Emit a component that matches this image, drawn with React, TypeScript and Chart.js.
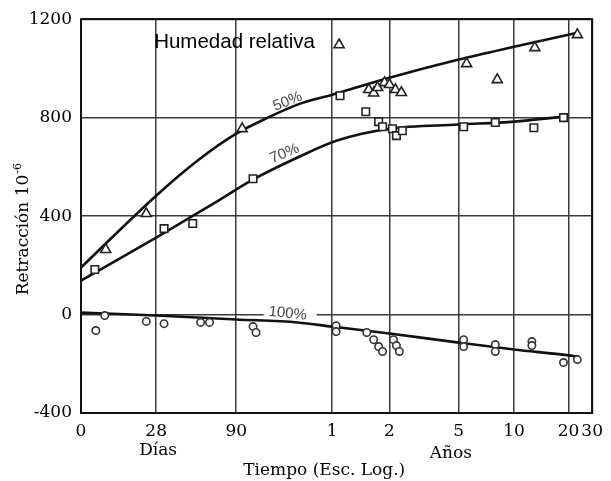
import React, { useEffect, useRef } from 'react';
import { Chart, registerables } from 'chart.js';

Chart.register(...registerables);

// x axis is a pseudo-log time axis; values are positions along that axis
const xTickPos = [0, 76, 157, 254, 312, 382, 438, 493, 517];
const xTickLabels = ['0', '28', '90', '1', '2', '5', '10', '20', '30'];
const yTicks = [-400, 0, 400, 800, 1200];

// 50 % relative humidity (triangles)
const tri50X = [25, 66, 163, 261, 291, 296, 300, 307, 312, 318, 324, 390, 421, 459, 502];
const tri50Y = [264, 410, 755, 1096, 914, 900, 922, 942, 934, 914, 902, 1019, 954, 1084, 1137];
// 70 % relative humidity (squares)
const sq70X = [14, 84, 113, 174, 262, 288, 301, 305, 315, 319, 325, 387, 419, 458, 488];
const sq70Y = [183, 349, 370, 552, 889, 824, 784, 763, 755, 727, 747, 763, 780, 759, 800];
// 100 % relative humidity (circles)
const c100X = [15, 24, 66, 84, 121, 130, 174, 177, 258, 258, 289, 296, 301, 305, 316, 319, 322, 387, 387, 419, 419, 456, 456, 488, 502];
const c100Y = [-65, -4, -28, -37, -32, -32, -49, -73, -45, -69, -73, -102, -130, -150, -102, -126, -150, -102, -130, -122, -150, -110, -126, -195, -183];

// fitted curves
const curve50X = [0, 76, 119, 157, 189, 219, 254, 312, 382, 438, 493, 502];
const curve50Y = [191, 483, 629, 735, 800, 853, 893, 962, 1036, 1088, 1137, 1145];
const curve70X = [0, 76, 139, 172, 219, 259, 312, 382, 438, 488];
const curve70Y = [138, 313, 463, 544, 638, 707, 755, 772, 784, 804];
const curve100X = [0, 76, 157, 219, 254, 312, 382, 438, 493, 502];
const curve100Y = [8, -4, -20, -32, -49, -77, -114, -142, -166, -171];

const zip = (xs: number[], ys: number[]) => xs.map((x, i) => ({ x, y: ys[i] }));

const SERIF = '"DejaVu Serif", serif';
const SANS = '"Liberation Sans", Arial, sans-serif';

const annotPlugin = {
  id: 'annot',
  beforeDatasetsDraw(chart: any) {
    const { ctx, chartArea: a, scales } = chart;
    const xs = scales.x, ys = scales.y;
    ctx.save();
    // gap in the zero grid line behind the "100%" label
    const lx = xs.getPixelForValue(209);
    const ly = ys.getPixelForValue(0);
    ctx.fillStyle = '#fff';
    ctx.fillRect(lx - 24, ly - 4, 53, 7);
    // frame
    ctx.strokeStyle = '#111';
    ctx.lineWidth = 2;
    ctx.strokeRect(a.left, a.top, a.right - a.left, a.bottom - a.top);
    ctx.restore();
  },
  afterDraw(chart: any) {
    const { ctx, chartArea: a, scales } = chart;
    const xs = scales.x, ys = scales.y;
    ctx.save();
    // inside title
    ctx.fillStyle = '#000';
    ctx.font = '20.5px ' + SANS;
    ctx.textAlign = 'left';
    ctx.textBaseline = 'alphabetic';
    ctx.fillText('Humedad relativa', xs.getPixelForValue(74), ys.getPixelForValue(1084));

    // curve labels
    const curveLabels: [string, number, number, number][] = [
      ['50%', 209, 865, -22],
      ['70%', 206, 654, -22],
      ['100%', 209, 4, 6],
    ];
    ctx.fillStyle = '#444';
    ctx.font = '15px ' + SANS;
    ctx.textAlign = 'center';
    ctx.textBaseline = 'middle';
    for (const [t, vx, vy, rot] of curveLabels) {
      ctx.save();
      ctx.translate(xs.getPixelForValue(vx), ys.getPixelForValue(vy));
      ctx.rotate((rot * Math.PI) / 180);
      ctx.fillText(t, 0, 0);
      ctx.restore();
    }

    // secondary x labels and title
    ctx.fillStyle = '#000';
    ctx.font = '17px ' + SERIF;
    ctx.textAlign = 'center';
    ctx.textBaseline = 'alphabetic';
    ctx.fillText('Días', xs.getPixelForValue(78), a.bottom + 42);
    ctx.fillText('Años', xs.getPixelForValue(374), a.bottom + 45);
    ctx.fillText('Tiempo (Esc. Log.)', xs.getPixelForValue(246), a.bottom + 62);

    // y title with superscript
    const cy = ys.getPixelForValue(345);
    ctx.translate(22, cy);
    ctx.rotate(-Math.PI / 2);
    ctx.font = '17px ' + SERIF;
    const main = 'Retracción 10';
    const w1 = ctx.measureText(main).width;
    ctx.font = '11px ' + SERIF;
    const sup = '-6';
    const w2 = ctx.measureText(sup).width;
    const start = -(w1 + w2) / 2;
    ctx.textAlign = 'left';
    ctx.font = '17px ' + SERIF;
    ctx.fillText(main, start, 6);
    ctx.font = '11px ' + SERIF;
    ctx.fillText(sup, start + w1 + 1, -1);
    ctx.restore();
  },
};

export default function App() {
  const ref = useRef<HTMLCanvasElement | null>(null);

  useEffect(() => {
    if (!ref.current) return;
    const markerBase = {
      type: 'scatter' as const,
      showLine: false,
      borderColor: '#222',
      backgroundColor: '#ffffff',
      pointBorderWidth: 1.6,
    };
    const curveBase = {
      type: 'line' as const,
      showLine: true,
      pointRadius: 0,
      borderColor: '#111',
      borderWidth: 2.6,
      fill: false,
      cubicInterpolationMode: 'monotone' as const,
    };
    const chart = new Chart(ref.current, {
      type: 'scatter',
      data: {
        datasets: [
          { ...markerBase, label: '50% puntos', data: zip(tri50X, tri50Y), pointStyle: 'triangle', pointRadius: 5.8 },
          { ...markerBase, label: '70% puntos', data: zip(sq70X, sq70Y), pointStyle: 'rect', pointRadius: 5.3 },
          { ...markerBase, label: '100% puntos', data: zip(c100X, c100Y), pointStyle: 'circle', pointRadius: 3.7, borderColor: '#333' },
          { ...curveBase, label: '50%', data: zip(curve50X, curve50Y) },
          { ...curveBase, label: '70%', data: zip(curve70X, curve70Y) },
          { ...curveBase, label: '100%', data: zip(curve100X, curve100Y) },
        ] as any,
      },
      options: {
        animation: false,
        responsive: true,
        maintainAspectRatio: false,
        layout: { padding: { top: 19, right: 13, left: 0, bottom: 0 } },
        plugins: { legend: { display: false }, tooltip: { enabled: false } },
        scales: {
          x: {
            type: 'linear',
            min: 0,
            max: 517,
            afterBuildTicks: (s: any) => {
              s.ticks = xTickPos.map((v) => ({ value: v }));
            },
            afterFit: (s: any) => {
              s.height = 68;
            },
            ticks: {
              autoSkip: false,
              maxRotation: 0,
              padding: 8,
              color: '#000',
              font: { family: SERIF, size: 17 },
              callback: (_v: any, i: number) => xTickLabels[i],
            },
            grid: { color: '#3a3a3a', lineWidth: 1.5, drawTicks: false },
            border: { display: false },
          },
          y: {
            type: 'linear',
            min: -400,
            max: 1200,
            afterBuildTicks: (s: any) => {
              s.ticks = yTicks.map((v) => ({ value: v }));
            },
            afterFit: (s: any) => {
              s.width = 81;
            },
            ticks: {
              padding: 9,
              color: '#000',
              font: { family: SERIF, size: 17 },
              callback: (v: any) => String(v),
            },
            grid: { color: '#3a3a3a', lineWidth: 1.5, drawTicks: false },
            border: { display: false },
          },
        },
      } as any,
      plugins: [annotPlugin],
    });
    return () => chart.destroy();
  }, []);

  return (
    <div style={{ position: 'fixed', left: 0, top: 0, width: 611, height: 481, background: '#fff' }}>
      <canvas ref={ref} />
    </div>
  );
}
